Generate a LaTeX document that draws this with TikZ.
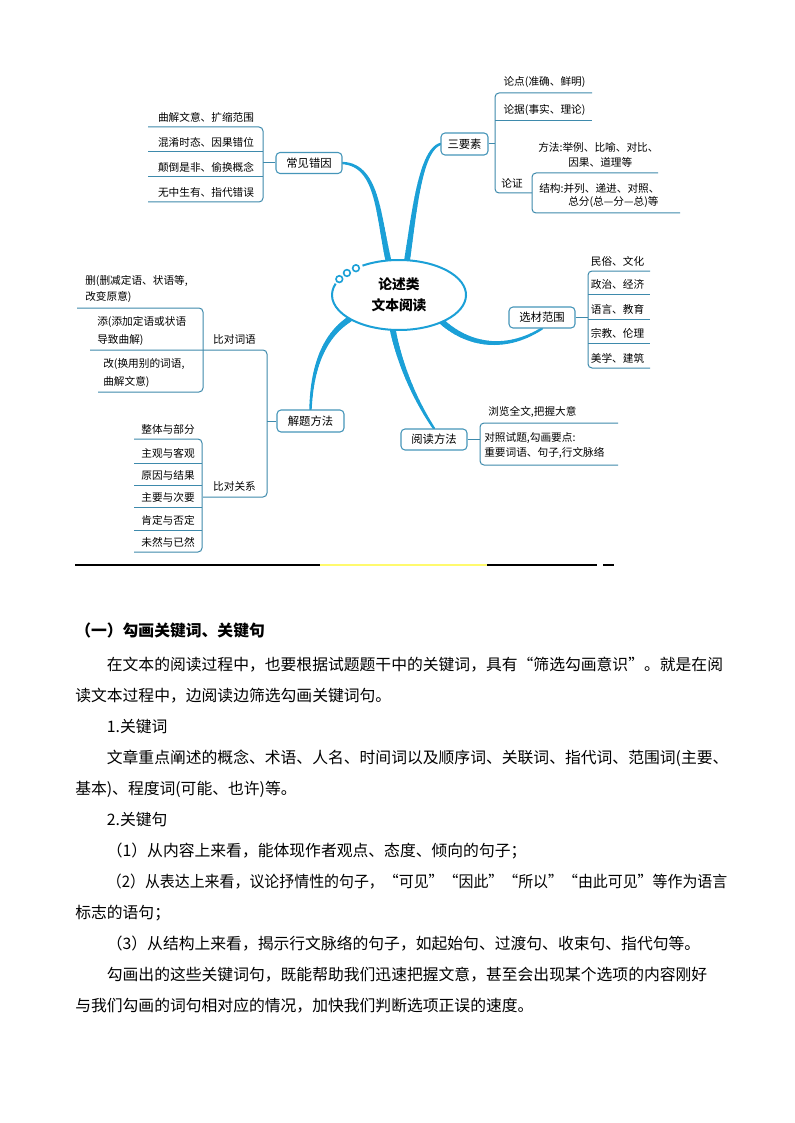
\documentclass[tikz,border=0pt]{standalone}
\usepackage{fontspec}
\setmainfont{Noto Sans CJK SC}
\usetikzlibrary{shapes.geometric}
\definecolor{branchc}{RGB}{27,160,215}
\definecolor{linec}{RGB}{62,138,172}
\definecolor{boxc}{RGB}{70,150,185}
\definecolor{hly}{RGB}{255,250,110}
\pgfdeclarelayer{back}
\pgfdeclarelayer{bg}
\pgfsetlayers{back,bg,main}
\newcommand\taper[5]{%
  \foreach \k in {0,...,30}{%
    \pgfmathsetmacro\tk{\k/30}%
    \pgfcoordinate{#1\k}{\pgfpointcurveattime{\tk}{\pgfpointanchor{#2}{center}}{\pgfpointanchor{#3}{center}}{\pgfpointanchor{#4}{center}}{\pgfpointanchor{#5}{center}}}%
  }%
  \foreach \k in {1,...,30}{%
    \pgfmathtruncatemacro\km{\k-1}%
    \pgfmathsetmacro\wd{4.4-2.6*\k/30}%
    \draw[draw=branchc, line width=\wd pt, line cap=round] (#1\km) -- (#1\k);
  }%
}
\begin{document}
\begin{tikzpicture}[x=0.75pt,y=-0.75pt,
  mapbox/.style={draw=boxc, line width=0.8pt, rounded corners=3pt, fill=white, minimum height=15.75pt, inner sep=0pt, font=\fontsize{8.5pt}{10pt}\selectfont},
  leaf/.style={inner sep=0pt, font=\fontsize{8pt}{9.5pt}\selectfont},
  brk/.style={draw=linec, line width=0.75pt, rounded corners=3pt},
  body/.style={anchor=west, inner sep=0pt, font=\fontsize{11.85pt}{14pt}\selectfont},
  rule/.style={line width=0.8pt},
]
\useasboundingbox (0,0) rectangle (794,1123);
\begin{pgfonlayer}{back}
\fill[white] (0,0) rectangle (794,1123);
\end{pgfonlayer}

% centre (shape only, for anchors)
\node[ellipse, minimum width=100.5pt, minimum height=52.5pt, inner sep=0pt] (ctr) at (399,295) {};

% branch boxes
\node[mapbox, minimum width=49.5pt] (b1) at (309,163) {常见错因};
\node[mapbox, minimum width=35.25pt, minimum height=16.5pt] (b2) at (464.5,144) {三要素};
\node[mapbox, minimum width=49.5pt] (b3) at (542,317.5) {选材范围};
\node[mapbox, minimum width=50.25pt, minimum height=16.5pt] (b4) at (310.5,421) {解题方法};
\node[mapbox, minimum width=49.5pt] (b5) at (434,439.5) {阅读方法};

% branch curve points
\coordinate (s1) at (ctr.107);
\coordinate (c1a) at (378,215);
\coordinate (c1b) at (378,165);
\coordinate (e1) at (b1.east);
\coordinate (s2) at (ctr.77);
\coordinate (c2a) at (414,215);
\coordinate (c2b) at (420,150);
\coordinate (e2) at (b2.west);
\coordinate (s3) at (ctr.-32);
\coordinate (c3a) at (468,345);
\coordinate (c3b) at (505,352);
\coordinate (e3) at (b3.south);
\coordinate (s4) at (ctr.-154);
\coordinate (c4a) at (325,335);
\coordinate (c4b) at (312,365);
\coordinate (e4) at (b4.north);
\coordinate (s5) at (ctr.-100);
\coordinate (c5a) at (400,365);
\coordinate (c5b) at (415,400);
\coordinate (e5) at (b5.north);

\begin{pgfonlayer}{bg}
\taper{qa}{s1}{c1a}{c1b}{e1}
\taper{qb}{s2}{c2a}{c2b}{e2}
\taper{qc}{s3}{c3a}{c3b}{e3}
\taper{qd}{s4}{c4a}{c4b}{e4}
\taper{qe}{s5}{c5a}{c5b}{e5}
\end{pgfonlayer}

% centre ellipse
\fill[white] (ctr.center) ellipse [x radius=50.25pt, y radius=26.25pt];
\draw[branchc, line width=1.5pt] ([shift={(123:50.25pt and 26.25pt)}]ctr.center) arc[start angle=123, end angle=-199, x radius=50.25pt, y radius=26.25pt];
\draw[branchc, line width=1.2pt] ([shift={(130:50.25pt and 26.25pt)}]ctr.center) circle[radius=2.5pt];
\draw[branchc, line width=1.2pt] ([shift={(141:50.25pt and 26.25pt)}]ctr.center) circle[radius=2.5pt];
\draw[branchc, line width=1.2pt] ([shift={(153:50.25pt and 26.25pt)}]ctr.center) circle[radius=2.5pt];
\node[align=center, inner sep=0pt, font=\fontsize{10.3pt}{15.75pt}\selectfont\bfseries] (ctrtxt) at (ctr.center) {论述类\\文本阅读};

% ---- 常见错因 group
\node[leaf] (l11) at (206,117.5) {曲解文意、扩缩范围};
\node[leaf] (l12) at (206,142.5) {混淆时态、因果错位};
\node[leaf] (l13) at (206,167.5) {颠倒是非、偷换概念};
\node[leaf] (l14) at (206,192.5) {无中生有、指代错误};
\draw[brk] (148,127) -- (263,127) -- (263,202) -- (148,202);
\draw[brk] (148,152) -- (263,152);
\draw[brk] (148,177) -- (263,177);
\coordinate (j1) at (263,163);
\draw[brk] (b1.west) -- (j1);

% ---- 三要素 group
\node[leaf] (l21) at (544.5,82) {论点(准确、鲜明)};
\node[leaf] (l22) at (544.5,110) {论据(事实、理论)};
\node[leaf, anchor=west] (l23) at (538,147) {方法:举例、比喻、对比、};
\node[leaf, anchor=west] (l24) at (568,162) {因果、道理等};
\node[leaf] (l25) at (512,183) {论证};
\node[leaf, anchor=west] (l26) at (539,188) {结构:并列、递进、对照、};
\node[leaf, anchor=west] (l27) at (568,202) {总分(总—分—总)等};
\draw[brk] (592,93) -- (495,93) -- (495,193) -- (532,193);
\draw[brk] (495,121) -- (592,121);
\draw[brk] (658,173) -- (532,173) -- (532,213) -- (680,213);
\coordinate (j2) at (495,144);
\draw[brk] (b2.east) -- (j2);

% ---- 选材范围 group
\node[leaf] (l31) at (617.5,261) {民俗、文化};
\node[leaf] (l32) at (617.5,284) {政治、经济};
\node[leaf] (l33) at (617.5,309) {语言、教育};
\node[leaf] (l34) at (617.5,333) {宗教、伦理};
\node[leaf] (l35) at (617.5,358) {美学、建筑};
\draw[brk] (650,271) -- (588,271) -- (588,368) -- (650,368);
\draw[brk] (588,294) -- (650,294);
\draw[brk] (588,319) -- (650,319);
\draw[brk] (588,343) -- (650,343);
\coordinate (j3) at (588,317.5);
\draw[brk] (b3.east) -- (j3);

% ---- 解题方法 group
\node[leaf, anchor=west] (l41) at (85,281) {删(删减定语、状语等,};
\node[leaf, anchor=west] (l42) at (85,297) {改变原意)};
\node[leaf, anchor=west] (l43) at (97,322) {添(添加定语或状语};
\node[leaf, anchor=west] (l44) at (97,340) {导致曲解)};
\node[leaf, anchor=west] (l45) at (103,364) {改(换用别的词语,};
\node[leaf, anchor=west] (l46) at (103,382) {曲解文意)};
\node[leaf] (l47) at (234.5,339) {比对词语};
\draw[brk] (77,308) -- (203,308) -- (203,392) -- (98,392);
\draw[brk] (90,350) -- (267,350) -- (267,497) -- (203,497);
\coordinate (j4) at (267,421);
\draw[brk] (b4.west) -- (j4);
\node[leaf] (l48) at (234.5,486) {比对关系};
\node[leaf] (l49) at (168,429.5) {整体与部分};
\node[leaf] (l4a) at (168,453) {主观与客观};
\node[leaf] (l4b) at (168,475) {原因与结果};
\node[leaf] (l4c) at (168,497) {主要与次要};
\node[leaf] (l4d) at (168,520) {肯定与否定};
\node[leaf] (l4e) at (168,542) {未然与已然};
\draw[brk] (134,439) -- (202,439) -- (202,552) -- (134,552);
\draw[brk] (134,463) -- (202,463);
\draw[brk] (134,485) -- (202,485);
\draw[brk] (134,507) -- (202,507);
\draw[brk] (134,530) -- (202,530);

% ---- 阅读方法 group
\node[leaf, anchor=west] (l51) at (488,412) {浏览全文,把握大意};
\node[leaf, anchor=west] (l52) at (484,438) {对照试题,勾画要点:};
\node[leaf, anchor=west] (l53) at (484,453) {重要词语、句子,行文脉络};
\draw[brk] (618,423) -- (480,423) -- (480,465) -- (618,465);
\coordinate (j5) at (480,439.5);
\draw[brk] (b5.east) -- (j5);

% ---- rule
\draw[rule] (75,565) -- (320,565);
\draw[rule, hly] (320,565) -- (487,565);
\draw[rule] (487,565) -- (597,565);
\draw[rule] (603,565) -- (614,565);

% ---- body text
\node[body] (t1) at (75,631) {\bfseries （一）勾画关键词、关键句};
\node[body] (t2) at (106.6,665) {在文本的阅读过程中，也要根据试题题干中的关键词，具有“筛选勾画意识”。就是在阅};
\node[body] (t3) at (75,696) {读文本过程中，边阅读边筛选勾画关键词句。};
\node[body] (t4) at (106.6,727) {1.关键词};
\node[body] (t5) at (106.6,758) {文章重点阐述的概念、术语、人名、时间词以及顺序词、关联词、指代词、范围词(主要、};
\node[body] (t6) at (75,789) {基本)、程度词(可能、也许)等。};
\node[body] (t7) at (106.6,820) {2.关键句};
\node[body] (t8) at (106.6,851) {（1）从内容上来看，能体现作者观点、态度、倾向的句子；};
\node[body] (t9) at (106.6,882) {\scalebox{0.945}[1]{（2）从表达上来看，议论抒情性的句子，“可见”“因此”“所以”“由此可见”等作为语言}};
\node[body] (t10) at (75,913) {标志的语句；};
\node[body] (t11) at (106.6,944) {（3）从结构上来看，揭示行文脉络的句子，如起始句、过渡句、收束句、指代句等。};
\node[body] (t12) at (106.6,975) {勾画出的这些关键词句，既能帮助我们迅速把握文意，甚至会出现某个选项的内容刚好};
\node[body] (t13) at (75,1006) {与我们勾画的词句相对应的情况，加快我们判断选项正误的速度。};
\end{tikzpicture}
\end{document}
